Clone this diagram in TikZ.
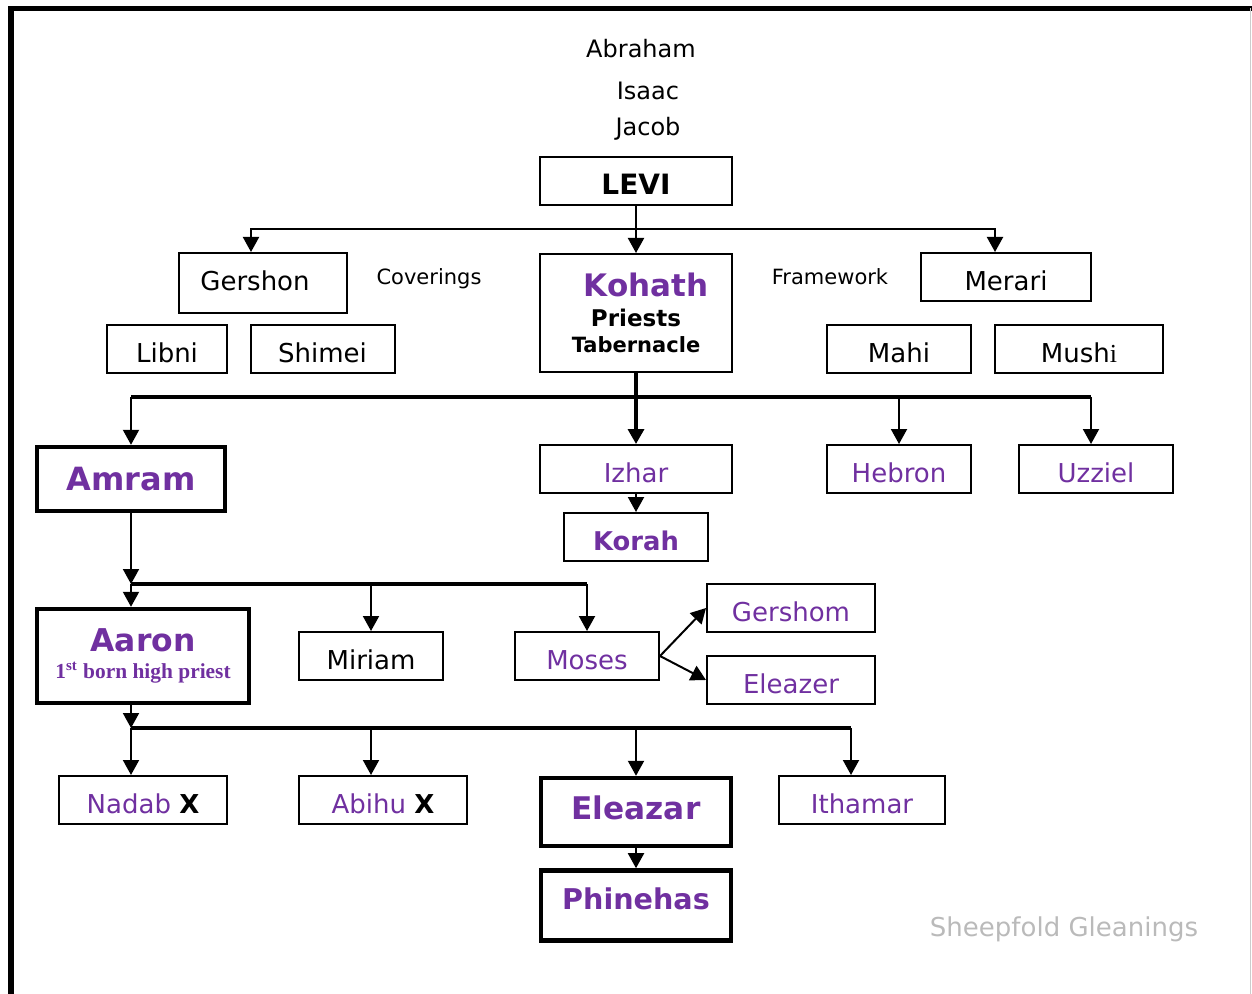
\documentclass[tikz,border=0pt]{standalone}
\usepackage{fontspec}
\setmainfont{DejaVu Sans}
\newfontfamily\timesfont{Liberation Serif}
\usetikzlibrary{positioning,calc,arrows.meta}
\definecolor{kinpurple}{RGB}{112,48,160}
\tikzset{
	tree/.style={draw, line width=1pt, inner sep=0pt, minimum height=24pt},
	person/.style={tree, text height=13.5pt, text depth=0pt, font=\fontsize{13}{15}\selectfont},
	heir/.style={tree, line width=2.2pt, text=kinpurple, font=\bfseries\fontsize{15.6}{18}\selectfont},
	duty/.style={font=\fontsize{10.5}{12}\selectfont},
	elder/.style={font=\fontsize{12}{14}\selectfont},
	bus/.style={line width=1.7pt},
	>={Triangle[length=7.5pt,width=8pt]}
}

\begin{document}
\begin{tikzpicture}[x=0.5pt,y=-0.5pt,line width=1pt]
	\useasboundingbox (0,0) rectangle (1252,994);
	\draw[line width=2.8pt] (11,994) -- (11,8.5) -- (1252,8.5);
	\draw[black!20, line width=0.8pt] (1250.5,8.5) -- (1250.5,994);
	\node[elder] (Abraham) at (641,49) {Abraham};
	\node[elder] (Isaac) at (648,91) {Isaac};
	\node[elder] (Jacob) at (648,129) {Jacob};
	\node[person, minimum width=96pt, font=\bfseries\fontsize{14}{16}\selectfont] (LEVI) at (636,181) {LEVI};
	\node[person, minimum width=84pt, minimum height=30pt, text height=7.5pt] (Gershon) at (263,283) {Gershon\hspace*{8pt}};
	\node[duty] (Coverings) at (429,279) {Coverings};
	\node[tree, minimum width=96pt, minimum height=59pt, align=center, font=\bfseries\fontsize{11.5}{13}\selectfont] (Kohath) at (636,313) {\hspace*{10pt}{\color{kinpurple}\fontsize{15.5}{18}\selectfont Kohath}\\[2.3pt]Priests\\{\fontsize{10.5}{12}\selectfont Tabernacle}};
	\node[duty] (Framework) at (830,277) {Framework};
	\node[person, minimum width=85pt] (Merari) at (1006,277) {Merari};
	\node[person, minimum width=60pt] (Libni) at (167,349) {Libni};
	\node[person, minimum width=72pt] (Shimei) at (322.5,349) {Shimei};
	\node[person, minimum width=72pt] (Mahi) at (899,349) {Mahi};
	\node[person, minimum width=84pt] (Mushi) at (1079,349) {Mush{\timesfont i}};
	\node[heir, minimum width=94pt, minimum height=32pt, text height=11.7pt, text depth=0pt, font=\bfseries\fontsize{16}{18}\selectfont] (Amram) at (131,479) {Amram};
	\node[person, text=kinpurple, minimum width=96pt] (Izhar) at (636,469) {Izhar};
	\node[person, text=kinpurple, minimum width=72pt] (Hebron) at (899,469) {Hebron};
	\node[person, text=kinpurple, minimum width=77pt] (Uzziel) at (1096,469) {Uzziel};
	\node[person, text=kinpurple, minimum width=72pt, below=9pt of Izhar, font=\bfseries\fontsize{12.9}{15}\selectfont] (Korah) {Korah};
	\node[heir, minimum width=106pt, minimum height=47pt, align=center, font=\bfseries\fontsize{15.7}{13.75}\selectfont] (Aaron) at (143,656) {Aaron\\{\timesfont\fontsize{10.7}{12}\selectfont 1\textsuperscript{st} born high priest}};
	\node[person, minimum width=72pt] (Miriam) at (371,656) {Miriam};
	\node[person, text=kinpurple, minimum width=72pt] (Moses) at (587,656) {Moses};
	\node[person, text=kinpurple, minimum width=84pt] (Gershom) at (791,608) {Gershom};
	\node[person, text=kinpurple, minimum width=84pt] (Eleazer) at (791,680) {Eleazer};
	\node[person, text=kinpurple, minimum width=84pt] (Nadab) at (143,800) {Nadab \textcolor{black}{\bfseries X}};
	\node[person, text=kinpurple, minimum width=84pt] (Abihu) at (383,800) {Abihu \textcolor{black}{\bfseries X}};
	\node[heir, minimum width=95pt, minimum height=34pt, text height=7.4pt, text depth=0pt] (Eleazar) at (636,812) {Eleazar};
	\node[person, text=kinpurple, minimum width=83pt] (Ithamar) at (862,800) {Ithamar};
	\node[heir, minimum width=95pt, minimum height=35pt, below=10pt of Eleazar, text height=4.4pt, text depth=0pt, font=\bfseries\fontsize{14.3}{16}\selectfont] (Phinehas) {Phinehas};
	\node[text=black!27, font=\fontsize{13}{15}\selectfont] (Gleanings) at (1064,929) {Sheepfold Gleanings};
	\coordinate (levijoin) at (636,229);
	\coordinate (kohathjoin) at (636,397);
	\coordinate (amramjoin) at (131,584);
	\coordinate (aaronjoin) at (131,728);
	\draw (LEVI) -- (levijoin);
	\draw[->] (levijoin) -| ($(Gershon.north)+(-12,0)$);
	\draw[->] (levijoin) -| ($(Merari.north)+(-11,0)$);
	\draw[->] (LEVI) -- (Kohath);
	\draw[bus] (kohathjoin -| Amram.north) -- ($(kohathjoin -| Uzziel.north)+(-5,0)$);
	\draw[bus, ->] (Kohath) -- (Izhar);
	\draw[->] (kohathjoin -| Amram.north) -- (Amram);
	\draw[->] (kohathjoin -| Hebron.north) -- (Hebron);
	\draw[->] ($(kohathjoin -| Uzziel.north)+(-5,0)$) -- ($(Uzziel.north)+(-5,0)$);
	\draw[->] (Izhar) -- (Korah);
	\draw[->] (Amram) -- (amramjoin);
	\draw[bus] (amramjoin) -- (amramjoin -| Moses.north);
	\draw[->] (amramjoin) -- ($(Aaron.north)+(-12,0)$);
	\draw[->] (amramjoin -| Miriam.north) -- (Miriam);
	\draw[->] (amramjoin -| Moses.north) -- (Moses);
	\draw[->] (Moses.east) -- (Gershom.west);
	\draw[->] (Moses.east) -- (Eleazer.west);
	\draw[->] ($(Aaron.south)+(-12,0)$) -- (aaronjoin);
	\draw[bus] (aaronjoin) -- ($(aaronjoin -| Ithamar.north)+(-11,0)$);
	\draw[->] (aaronjoin) -- ($(Nadab.north)+(-12,0)$);
	\draw[->] ($(aaronjoin -| Abihu.north)+(-12,0)$) -- ($(Abihu.north)+(-12,0)$);
	\draw[->] (aaronjoin -| Eleazar.north) -- (Eleazar);
	\draw[->] ($(aaronjoin -| Ithamar.north)+(-11,0)$) -- ($(Ithamar.north)+(-11,0)$);
	\draw[->] (Eleazar) -- (Phinehas);
\end{tikzpicture}
\end{document}
